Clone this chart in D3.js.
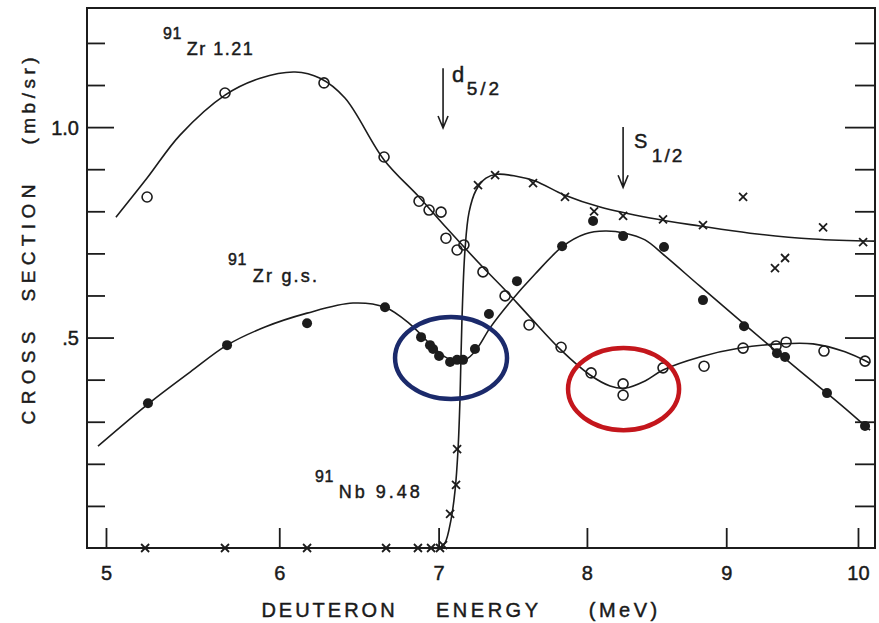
<!DOCTYPE html>
<html>
<head>
<meta charset="utf-8">
<script src="https://cdn.jsdelivr.net/npm/d3@7"></script>
<style>
  body { margin: 0; background: #fff; }
  text { font-family: "Liberation Sans", Arial, sans-serif; fill: #1a1a1a; stroke: #1a1a1a; stroke-width: 0.45px; }
</style>
</head>
<body>
<svg id="chart" width="879" height="623"></svg>
<script>
// 91Zr(d,p) and 91Zr(d,n) excitation functions: cross section (mb/sr) vs deuteron energy (MeV)

const energyTicks = [5, 6, 7, 8, 9, 10];
const sectionMinorTicks = [0.1, 0.2, 0.3, 0.4, 0.6, 0.7, 0.8, 0.9, 1.1, 1.2];
const sectionMajorTicks = [0.5, 1.0];
const sectionTickLabels = [".5", "1.0"];

// 91Zr 1.21 MeV state (open circles)
const zr121Energy = [5.229, 5.677, 6.273, 6.649, 6.873, 6.938, 7.016, 7.048, 7.121, 7.166, 7.292, 7.440,
                     7.602, 7.821, 8.029, 8.254, 8.254, 8.539, 8.837, 9.125, 9.372, 9.448, 9.737, 10.055];
const zr121Section = [0.834, 1.081, 1.105, 0.929, 0.824, 0.803, 0.798, 0.736, 0.708, 0.720, 0.656, 0.599,
                      0.530, 0.477, 0.416, 0.390, 0.363, 0.428, 0.432, 0.475, 0.480, 0.489, 0.468, 0.444];
const zr121CurveEnergy = [5.055, 5.229, 5.416, 5.677, 5.885, 6.096, 6.249, 6.403, 6.649, 6.873, 7.048, 7.292, 7.440,
                          7.602, 7.821, 8.022, 8.162, 8.268, 8.410, 8.539, 8.807, 9.102, 9.402, 9.653, 9.899, 10.094];
const zr121CurveSection = [0.786, 0.879, 0.981, 1.076, 1.116, 1.131, 1.116, 1.069, 0.922, 0.834, 0.762, 0.667, 0.613,
                           0.551, 0.470, 0.411, 0.385, 0.380, 0.397, 0.423, 0.454, 0.475, 0.485, 0.485, 0.466, 0.439];

// 91Zr ground state (filled circles)
const zrGsEnergy = [5.234, 5.689, 6.169, 6.655, 6.886, 6.944, 6.964, 7.003, 7.075, 7.121, 7.160, 7.239,
                    7.332, 7.520, 7.828, 8.043, 8.254, 8.546, 8.829, 9.132, 9.379, 9.440, 9.760, 10.055];
const zrGsSection = [0.344, 0.482, 0.534, 0.572, 0.501, 0.482, 0.473, 0.456, 0.442, 0.447, 0.447, 0.473,
                     0.556, 0.634, 0.717, 0.777, 0.741, 0.715, 0.589, 0.527, 0.463, 0.454, 0.368, 0.290];
const zrGsCurveEnergy = [4.956, 5.234, 5.474, 5.689, 5.914, 6.169, 6.453, 6.655, 6.815, 6.944, 7.042, 7.121, 7.193, 7.259,
                         7.339, 7.473, 7.643, 7.834, 7.987, 8.127, 8.268, 8.410, 8.553, 8.807, 9.177, 9.554, 9.861, 10.094];
const zrGsCurveSection = [0.242, 0.342, 0.418, 0.482, 0.525, 0.558, 0.582, 0.572, 0.532, 0.485, 0.454, 0.444, 0.451, 0.477,
                          0.523, 0.584, 0.651, 0.717, 0.746, 0.753, 0.748, 0.732, 0.694, 0.622, 0.520, 0.420, 0.342, 0.280];

// 91Nb 9.48 MeV analogue state (crosses)
const nbEnergy = [5.218, 5.677, 6.169, 6.662, 6.866, 6.951, 7.009, 7.029, 7.075, 7.114, 7.121, 7.259,
                  7.373, 7.629, 7.848, 8.050, 8.254, 8.539, 8.829, 9.125, 9.364, 9.440, 9.730, 10.040];
const nbSection = [0, 0, 0, 0, 0, 0, 0, 0.007, 0.081, 0.150, 0.235, 0.862,
                   0.886, 0.867, 0.834, 0.800, 0.789, 0.781, 0.767, 0.834, 0.665, 0.689, 0.762, 0.727];
const nbCurveEnergy = [4.9, 5.5, 6.0, 6.5, 6.8, 6.95, 7.009, 7.042, 7.081, 7.108, 7.127, 7.140, 7.153, 7.173, 7.200, 7.246,
                       7.312, 7.386, 7.507, 7.643, 7.848, 8.092, 8.446, 8.807, 9.177, 9.653, 10.133];
const nbCurveSection = [0, 0, 0, 0, 0, 0, 0, 0.012, 0.067, 0.138, 0.233, 0.352, 0.542, 0.708, 0.798, 0.850,
                        0.879, 0.888, 0.884, 0.872, 0.838, 0.810, 0.784, 0.765, 0.748, 0.734, 0.729];

// Resonance markers (energy, top and bottom of arrow in mb/sr)
const resonanceEnergy = [7.029, 8.254];
const resonanceTop = [1.140, 1.000];
const resonanceBottom = [0.998, 0.857];

// Highlighted regions: [E min, E max, σ min, σ max]
const highlightBlue = [6.719, 7.453, 0.354, 0.549];
const highlightRed = [7.869, 8.655, 0.280, 0.475];

const svg = d3.select("#chart");
const plotLeft = 87, plotRight = 875, plotTop = 8, plotBottom = 548;

// Energy axis is drawn on a square-root scale
const x = d3.scalePow().exponent(0.5).domain([4.896, 10.133]).range([plotLeft, plotRight]);
const y = d3.scaleLinear().domain([0, 1.283]).range([plotBottom, plotTop]);

const ink = "#1c1c1c";

// Frame
svg.append("rect")
  .attr("x", plotLeft).attr("y", plotTop)
  .attr("width", plotRight - plotLeft).attr("height", plotBottom - plotTop)
  .attr("fill", "none").attr("stroke", ink).attr("stroke-width", 2);

function styleAxis(g) {
  g.select(".domain").remove();
  g.selectAll(".tick line").attr("stroke", ink).attr("stroke-width", 1.8);
  g.selectAll(".tick text").attr("fill", ink);
}

// Left axis ticks (inward)
svg.append("g").attr("transform", `translate(${plotLeft},0)`)
  .call(d3.axisRight(y).tickValues(sectionMinorTicks).tickSize(18).tickFormat(""))
  .call(styleAxis);
svg.append("g").attr("transform", `translate(${plotLeft},0)`)
  .call(d3.axisRight(y).tickValues(sectionMajorTicks).tickSize(27).tickFormat(""))
  .call(styleAxis);
svg.append("g").attr("transform", `translate(${plotLeft},0)`)
  .call(d3.axisLeft(y).tickValues(sectionMajorTicks).tickSize(0).tickPadding(8)
    .tickFormat((d, i) => sectionTickLabels[i]))
  .call(styleAxis)
  .selectAll("text").style("font-size", "20px").attr("dy", "0.36em");

// Right axis ticks (inward)
svg.append("g").attr("transform", `translate(${plotRight},0)`)
  .call(d3.axisLeft(y).tickValues(sectionMinorTicks).tickSize(20).tickFormat(""))
  .call(styleAxis);
svg.append("g").attr("transform", `translate(${plotRight},0)`)
  .call(d3.axisLeft(y).tickValues(sectionMajorTicks).tickSize(30).tickFormat(""))
  .call(styleAxis);

// Bottom axis ticks (inward) and labels
svg.append("g").attr("transform", `translate(0,${plotBottom})`)
  .call(d3.axisTop(x).tickValues(energyTicks).tickSize(20).tickFormat(""))
  .call(styleAxis);
svg.append("g").attr("transform", `translate(0,${plotBottom})`)
  .call(d3.axisBottom(x).tickValues(energyTicks).tickSize(0).tickPadding(18).tickFormat(d3.format("d")))
  .call(styleAxis)
  .selectAll("text").style("font-size", "20px");

// Axis titles
const xTitle = [["DEUTERON", 328, 3], ["ENERGY", 487, 3.5], ["(MeV)", 623, 3.5]];
xTitle.forEach(([t, cx, ls]) => {
  svg.append("text").attr("x", cx + ls / 2).attr("y", 617)
    .attr("text-anchor", "middle").style("font-size", "20px")
    .style("letter-spacing", ls + "px").text(t);
});
const yTitle = [["CROSS", 378, 6.3], ["SECTION", 243, 5.4], ["(mb/sr)", 101, 4.5]];
yTitle.forEach(([t, cy, ls]) => {
  svg.append("text")
    .attr("transform", `translate(35,${cy}) rotate(-90)`)
    .attr("x", ls / 2).attr("text-anchor", "middle").style("font-size", "19px")
    .style("letter-spacing", ls + "px").text(t);
});

// Fitted curves
const zip = (es, vs) => es.map((e, i) => ({ e, v: vs[i] }));
const line = d3.line().x(d => x(d.e)).y(d => y(d.v)).curve(d3.curveCatmullRom.alpha(0.5));

const curves = [
  zip(zr121CurveEnergy, zr121CurveSection),
  zip(zrGsCurveEnergy, zrGsCurveSection),
  zip(nbCurveEnergy, nbCurveSection)
];
svg.append("g").selectAll("path").data(curves).join("path")
  .attr("d", line).attr("fill", "none").attr("stroke", ink).attr("stroke-width", 1.6);

// Data points
svg.append("g").selectAll("circle").data(zip(zr121Energy, zr121Section)).join("circle")
  .attr("cx", d => x(d.e)).attr("cy", d => y(d.v)).attr("r", 5)
  .attr("fill", "none").attr("stroke", ink).attr("stroke-width", 1.6);

svg.append("g").selectAll("circle").data(zip(zrGsEnergy, zrGsSection)).join("circle")
  .attr("cx", d => x(d.e)).attr("cy", d => y(d.v)).attr("r", 5)
  .attr("fill", ink);

svg.append("g").selectAll("path").data(zip(nbEnergy, nbSection)).join("path")
  .attr("transform", d => `translate(${x(d.e)},${y(d.v)})`)
  .attr("d", "M-4,-4L4,4M-4,4L4,-4")
  .attr("stroke", ink).attr("stroke-width", 1.8).attr("fill", "none");

// Resonance arrows
resonanceEnergy.forEach((e, i) => {
  const ax = x(e), y0 = y(resonanceTop[i]), y1 = y(resonanceBottom[i]);
  svg.append("path")
    .attr("d", `M${ax},${y0}V${y1}M${ax - 5},${y1 - 12}L${ax},${y1}L${ax + 5},${y1 - 12}`)
    .attr("fill", "none").attr("stroke", ink).attr("stroke-width", 1.6);
});

// Labels
function label(xp, yp, sup, main, supSize, mainSize, dx, dy, ls) {
  const t = svg.append("text").attr("x", xp).attr("y", yp);
  t.append("tspan").style("font-size", supSize + "px").style("letter-spacing", "0.5px").text(sup);
  t.append("tspan").attr("dx", dx).attr("dy", dy).style("font-size", mainSize + "px")
    .style("letter-spacing", ls + "px").text(main);
}
label(163, 39, "91", "Zr 1.21", 16, 18, 5, 16, 1.5);
label(228, 265, "91", "Zr g.s.", 16, 18, 6, 17, 2.2);
label(315, 482, "91", "Nb 9.48", 16, 18, 5, 16, 3);
label(452, 82, "d", "5/2", 22, 19, 2, 13, 3);
label(634, 148, "S", "1/2", 20, 19, 4, 14, 2);

// Highlight ellipses
[[highlightBlue, "#1b2a6b"], [highlightRed, "#c4161c"]].forEach(([b, c]) => {
  const x0 = x(b[0]), x1 = x(b[1]), y0 = y(b[3]), y1 = y(b[2]);
  svg.append("ellipse")
    .attr("cx", (x0 + x1) / 2).attr("cy", (y0 + y1) / 2)
    .attr("rx", (x1 - x0) / 2).attr("ry", (y1 - y0) / 2)
    .attr("fill", "none").attr("stroke", c).attr("stroke-width", 4.5);
});
</script>
</body>
</html>
